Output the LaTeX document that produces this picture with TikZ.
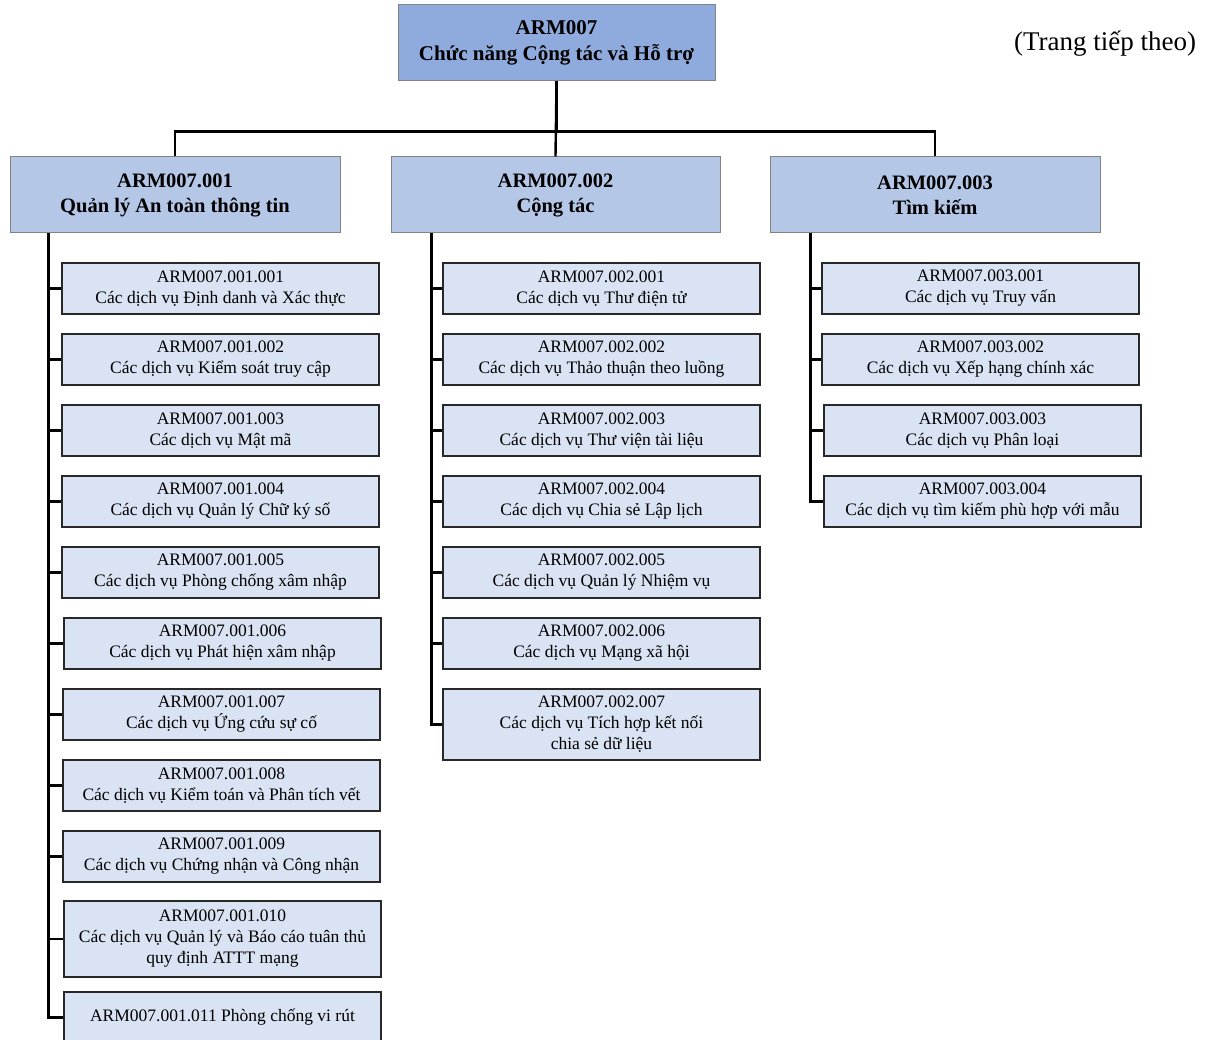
\documentclass[tikz,border=0pt]{standalone}
\usepackage{fontspec}
\setmainfont{Liberation Serif}
\definecolor{rootfill}{RGB}{143,170,220}
\definecolor{midfill}{RGB}{180,199,231}
\definecolor{leaffill}{RGB}{218,227,243}
\definecolor{midline}{RGB}{130,130,130}
\definecolor{leafline}{RGB}{40,40,40}
\tikzset{
  rootbox/.style={draw=midline, line width=1pt, fill=rootfill, minimum width=317pt, minimum height=76pt, inner sep=0pt, align=center, font=\fontsize{21}{26}\selectfont\bfseries},
  midbox/.style={draw=midline, line width=1pt, fill=midfill, minimum width=330pt, minimum height=76pt, inner sep=0pt, align=center, font=\fontsize{20.5}{25}\selectfont\bfseries},
  leafbox/.style={draw=leafline, line width=1.6pt, fill=leaffill, minimum width=317pt, minimum height=51pt, inner sep=0pt, align=center, font=\fontsize{17.5}{21}\selectfont},
  tall/.style={minimum height=#1},
  conn/.style={draw=black, line width=2.4pt},
  lconn/.style={draw=black, line width=2.4pt},
}
\begin{document}
\begin{tikzpicture}[x=1pt,y=-1pt]
\fill[white] (0,0) rectangle (1215,1040);
\useasboundingbox (0,0) rectangle (1215,1040);

% root
\node[rootbox] (root) at (556.5,43) {ARM007\\Chức năng Cộng tác và Hỗ trợ};
\node[font=\fontsize{27}{30}\selectfont] (cont) at (1105,44) {(Trang tiếp theo)};

% level 2
\node[midbox] (b1) at (175,195) {ARM007.001\\Quản lý An toàn thông tin};
\node[midbox, minimum width=329pt] (b2) at (555.5,195) {ARM007.002\\Cộng tác};
\node[midbox] (b3) at (935,195) {ARM007.003\\Tìm kiếm};

% column 1
\node[leafbox] (a1) at (220.5,288.5) {ARM007.001.001\\Các dịch vụ Định danh và Xác thực};
\node[leafbox] (a2) at (220.5,359.5) {ARM007.001.002\\Các dịch vụ Kiểm soát truy cập};
\node[leafbox] (a3) at (220.5,430.5) {ARM007.001.003\\Các dịch vụ Mật mã};
\node[leafbox] (a4) at (220.5,501.5) {ARM007.001.004\\Các dịch vụ Quản lý Chữ ký số};
\node[leafbox] (a5) at (220.5,572.5) {ARM007.001.005\\Các dịch vụ Phòng chống xâm nhập};
\node[leafbox] (a6) at (222.5,643.5) {ARM007.001.006\\Các dịch vụ Phát hiện xâm nhập};
\node[leafbox] (a7) at (221.5,714.5) {ARM007.001.007\\Các dịch vụ Ứng cứu sự cố};
\node[leafbox] (a8) at (221.5,785.5) {ARM007.001.008\\Các dịch vụ Kiểm toán và Phân tích vết};
\node[leafbox] (a9) at (221.5,856.5) {ARM007.001.009\\Các dịch vụ Chứng nhận và Công nhận};
\node[leafbox, tall=76pt] (a10) at (222.5,939) {ARM007.001.010\\Các dịch vụ Quản lý và Báo cáo tuân thủ\\quy định ATTT mạng};
\node[leafbox] (a11) at (222.5,1017.5) {ARM007.001.011 Phòng chống vi rút};

% column 2
\node[leafbox] (c1) at (601.5,288.5) {ARM007.002.001\\Các dịch vụ Thư điện tử};
\node[leafbox] (c2) at (601.5,359.5) {ARM007.002.002\\Các dịch vụ Thảo thuận theo luồng};
\node[leafbox] (c3) at (601.5,430.5) {ARM007.002.003\\Các dịch vụ Thư viện tài liệu};
\node[leafbox] (c4) at (601.5,501.5) {ARM007.002.004\\Các dịch vụ Chia sẻ Lập lịch};
\node[leafbox] (c5) at (601.5,572.5) {ARM007.002.005\\Các dịch vụ Quản lý Nhiệm vụ};
\node[leafbox] (c6) at (601.5,643.5) {ARM007.002.006\\Các dịch vụ Mạng xã hội};
\node[leafbox, tall=71pt] (c7) at (601.5,724.5) {ARM007.002.007\\Các dịch vụ Tích hợp kết nối\\chia sẻ dữ liệu};

% column 3
\node[leafbox] (d1) at (980.5,288.5) {ARM007.003.001\\Các dịch vụ Truy vấn};
\node[leafbox] (d2) at (980.5,359.5) {ARM007.003.002\\Các dịch vụ Xếp hạng chính xác};
\node[leafbox] (d3) at (982.5,430.5) {ARM007.003.003\\Các dịch vụ Phân loại};
\node[leafbox] (d4) at (982.5,501.5) {ARM007.003.004\\Các dịch vụ tìm kiếm phù hợp với mẫu};

% top connectors
\draw[conn] (root.south) -- ++(0,50) -| (b1.north);
\draw[conn] (root.south) -- ++(0,50) -| (b3.north);
\draw[conn] (root.south) -- (b2.north);

% column connectors
\foreach \n in {a1,a2,a3,a4,a5,a6,a7,a8,a9,a10,a11}
  \draw[lconn] (b1.south west) ++(39,0) |- (\n.west);
\foreach \n in {c1,c2,c3,c4,c5,c6,c7}
  \draw[lconn] (b2.south west) ++(41,0) |- (\n.west);
\foreach \n in {d1,d2,d3,d4}
  \draw[lconn] (b3.south west) ++(41,0) |- (\n.west);
\end{tikzpicture}
\end{document}
